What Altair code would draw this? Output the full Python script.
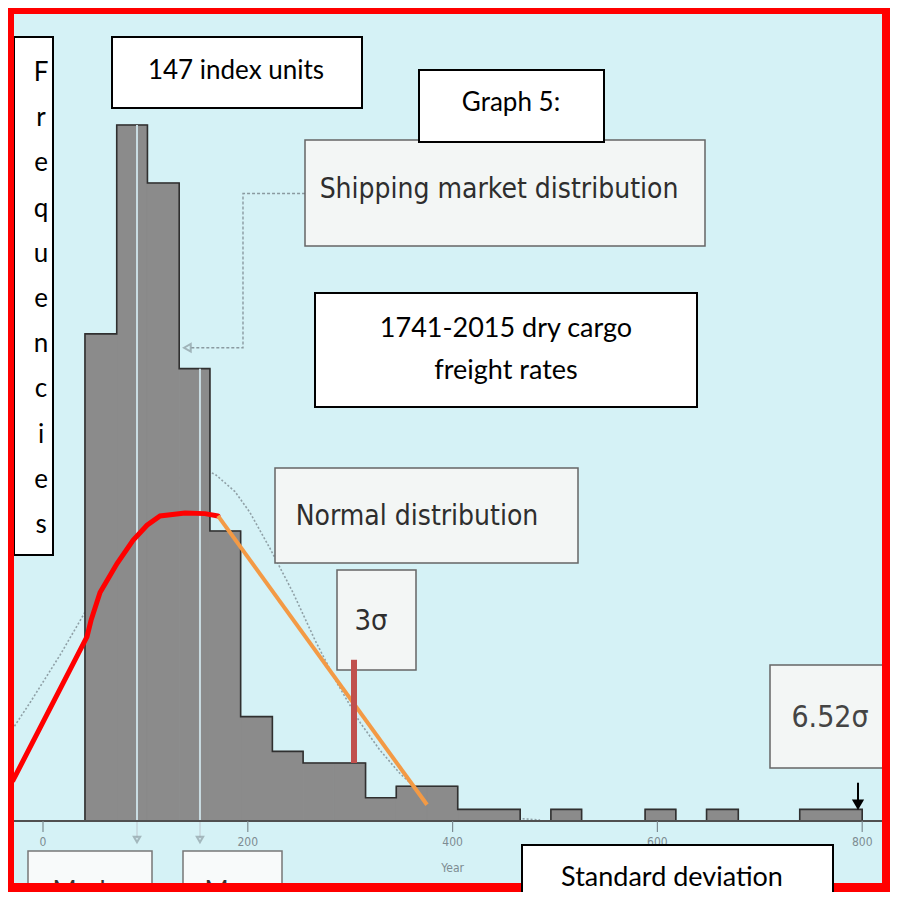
import altair as alt
import pandas as pd

# ---------------- data ----------------
# histogram bins (index units) and frequencies (number of years)
bin_lo = [41, 72, 102, 133, 163, 193, 224, 254, 284, 315, 345, 375, 405,
          436, 466, 496, 526, 557, 588, 618, 648, 679, 709, 739, 770]
bin_hi = [72, 102, 133, 163, 193, 224, 254, 284, 315, 345, 375, 405, 436,
          466, 496, 526, 557, 588, 618, 648, 679, 709, 739, 770, 800]
freq = [42, 60, 55, 39, 25, 9, 6, 5, 5, 2, 3, 3, 1,
        1, 0, 1, 0, 0, 1, 0, 1, 0, 0, 1, 1]

# dotted normal-distribution curve of the original graph
normal_x = [-32.2, -12.7, 16.6, 41.0, 65.4, 94.7, 124.0, 153.3, 168.0, 187.5, 202.1,
            221.7, 244.1, 265.6, 287.1, 309.6, 329.1, 348.6, 363.3, 382.8, 407.2, 446.3, 485.4]
normal_y = [7.6, 10.2, 14.3, 18.0, 22.1, 26.4, 29.2, 30.4, 29.9, 28.4, 26.6,
            23.5, 19.7, 15.6, 11.9, 8.5, 6.1, 4.1, 2.9, 1.8, 0.95, 0.34, 0.09]

# hand-drawn red curve and orange line
red_x = [-29.3, 43.0, 46.9, 55.7, 72.3, 87.9, 101.6, 114.3, 138.7, 158.2, 170.9]
red_y = [3.5, 15.9, 17.3, 19.7, 22.2, 24.2, 25.5, 26.3, 26.55, 26.5, 26.3]
orange_x = [170.9, 375.0]
orange_y = [26.3, 1.4]

# 3 sigma marker and 6.52 sigma arrow
sigma3_x, sigma3_lo, sigma3_hi = 303.7, 5.0, 13.9
sigma652_x, arrow_top, arrow_tip = 795.9, 3.3, 0.8

# mode / mean marker lines inside the histogram
marker_x = [91.8, 153.3]
marker_top = [60, 39]

# dotted connector from the "Shipping market distribution" box
conn_x = [255.9, 195.3, 195.3, 143.6]
conn_y = [54.1, 54.1, 40.8, 40.8]

tick_values = [0, 200, 400, 600, 800]
tick_labels = ["0", "200", "400", "600", "800"]

# ---------------- styling ----------------
W, H = 882, 884
BG = "#d5f2f6"
FONT = "Lato"
SCAN = "Liberation Sans Narrow, Arial Narrow, DejaVu Sans Condensed, Roboto, sans-serif"
XS = alt.Scale(domain=[-34.18, 827.15], nice=False, zero=False)
YS = alt.Scale(domain=[-6.12, 70.09], nice=False, zero=False)

one = pd.DataFrame({"a": [0]})


def X(f):
    return alt.X(f, type="quantitative", scale=XS, axis=None)


def Y(f):
    return alt.Y(f, type="quantitative", scale=YS, axis=None)


def box(x1, x2, y1, y2, fill="white", stroke="black", sw=2.0):
    return alt.Chart(one).mark_rect(fill=fill, stroke=stroke, strokeWidth=sw).encode(
        x=alt.value(x1), x2=alt.value(x2), y=alt.value(y1), y2=alt.value(y2))


def label(txt, x, y, size=27, font=FONT, color="black", baseline="middle", **kw):
    return alt.Chart(one).mark_text(align="center", baseline=baseline, fontSize=size,
                                    font=font, color=color, **kw).encode(
        x=alt.value(x), y=alt.value(y), text=alt.value(txt))


hist = pd.DataFrame({"lo": bin_lo, "hi": bin_hi, "freq": freq})
outline = pd.DataFrame({"x": [bin_lo[0]] + bin_lo + [bin_hi[-1]],
                        "y": [0] + freq + [0]})
outline["i"] = range(len(outline))
normal = pd.DataFrame({"x": normal_x, "y": normal_y})
red = pd.DataFrame({"x": red_x, "y": red_y, "i": range(len(red_x))})
orange = pd.DataFrame({"x": orange_x, "y": orange_y})
markers = pd.DataFrame({"x": marker_x, "top": marker_top})
conn = pd.DataFrame({"x": conn_x, "y": conn_y, "i": range(len(conn_x))})
ticks = pd.DataFrame({"v": tick_values, "t": tick_labels})

layers = []

# normal curve (behind bars)
layers.append(alt.Chart(normal).mark_line(color="#8fa0a6", strokeWidth=1.6,
                                          strokeDash=[2, 2]).encode(x=X("x"), y=Y("y")))
# histogram bars
layers.append(alt.Chart(hist).mark_rect(color="#8b8b8b", stroke="#8b8b8b",
                                        strokeWidth=1).encode(
    x=X("lo"), x2="hi", y=Y("freq"), y2=alt.datum(0)))
# histogram outline
layers.append(alt.Chart(outline).mark_line(color="#303030", strokeWidth=1.6,
                                           interpolate="step-after").encode(
    x=X("x"), y=Y("y"), order="i:Q"))
# light marker lines
layers.append(alt.Chart(markers).mark_rule(color="#c9dce2", strokeWidth=2).encode(
    x=X("x"), y=Y("top"), y2=alt.datum(-1.5)))
layers.append(alt.Chart(markers).mark_point(shape="triangle-down", color="#8fa0a6",
                                            size=40, filled=False).encode(
    x=X("x"), y=alt.Y(datum=-1.6, scale=YS, axis=None)))
# axis baseline, ticks, labels
layers.append(alt.Chart(one).mark_rule(color="#505050", strokeWidth=2).encode(
    x=alt.value(2), x2=alt.value(W - 2), y=alt.Y(datum=0, scale=YS, axis=None)))
layers.append(alt.Chart(ticks).mark_rule(color="#7d8c92", strokeWidth=1.2).encode(
    x=X("v"), y=alt.Y(datum=0, scale=YS, axis=None), y2=alt.datum(-0.95)))
layers.append(alt.Chart(ticks).mark_text(font=SCAN, fontSize=12, color="#7d8c92",
                                         baseline="middle").encode(
    x=X("v"), y=alt.Y(datum=-1.85, scale=YS, axis=None), text="t:N"))
layers.append(alt.Chart(one).mark_text(font=SCAN, fontSize=12, color="#7d8c92",
                                       baseline="middle").encode(
    x=alt.X(datum=400, scale=XS, axis=None), y=alt.Y(datum=-4.05, scale=YS, axis=None),
    text=alt.value("Year")))
# dotted connector with arrow head
layers.append(alt.Chart(conn).mark_line(color="#8a9aa0", strokeWidth=1.4,
                                        strokeDash=[3, 2]).encode(
    x=X("x"), y=Y("y"), order="i:Q"))
layers.append(alt.Chart(one).mark_point(shape="triangle-left", color="#8a9aa0",
                                        size=60, filled=False).encode(
    x=alt.X(datum=141, scale=XS, axis=None), y=alt.Y(datum=40.8, scale=YS, axis=None)))

# ---------------- annotation boxes ----------------
layers += [
    box(6, 45, 29, 547),
    label(list("Frequencies"), 33, 73, size=26, baseline="alphabetic", lineHeight=45.2),
    box(104, 354, 29, 100),
    label("147 index units", 228, 63, size=26),
    box(297, 697, 132, 238, fill="#f3f6f5", stroke="#666666", sw=1.5),
    label("Shipping market distribution", 491, 182, size=28, font=SCAN, color="#2e2e2e"),
    box(411, 596, 62, 134),
    label("Graph 5:", 503, 95, size=26),
    box(307, 689, 285, 399),
    label("1741-2015 dry cargo", 498, 321, size=27),
    label("freight rates", 498, 363, size=27),
    box(267, 570, 460, 555, fill="#f3f6f5", stroke="#666666", sw=1.5),
    label("Normal distribution", 409, 509, size=28, font=SCAN, color="#2e2e2e"),
    box(329, 408, 562, 662, fill="#f3f6f5", stroke="#666666", sw=1.5),
    label("3σ", 363, 613, size=29, font=SCAN, color="#2e2e2e"),
    box(762, 885, 657, 760, fill="#f3f6f5", stroke="#666666", sw=1.5),
    label("6.52σ", 822, 710, size=30, font=SCAN, color="#444444"),
    box(20, 144, 843, 900, fill="#f8fafa", stroke="#777777", sw=1.5),
    label("Mode", 78, 871, size=26, baseline="top", color="#333333"),
    box(175, 274, 843, 900, fill="#f8fafa", stroke="#777777", sw=1.5),
    label("Mean", 229, 871, size=26, baseline="top", color="#333333"),
]

# hand-drawn overlays
layers.append(alt.Chart(red).mark_line(color="#ff0000", strokeWidth=5,
                                       strokeCap="round").encode(
    x=X("x"), y=Y("y"), order="i:Q"))
layers.append(alt.Chart(orange).mark_line(color="#f39a45", strokeWidth=4).encode(
    x=X("x"), y=Y("y")))
layers.append(alt.Chart(one).mark_rule(color="#c0504d", strokeWidth=6).encode(
    x=alt.X(datum=sigma3_x, scale=XS, axis=None),
    y=alt.Y(datum=sigma3_lo, scale=YS, axis=None), y2=alt.datum(sigma3_hi)))
layers.append(alt.Chart(one).mark_rule(color="black", strokeWidth=2).encode(
    x=alt.X(datum=sigma652_x, scale=XS, axis=None),
    y=alt.Y(datum=arrow_top, scale=YS, axis=None), y2=alt.datum(arrow_tip + 0.8)))
layers.append(alt.Chart(one).mark_point(shape="triangle-down", color="black", size=150,
                                        filled=True, opacity=1).encode(
    x=alt.X(datum=sigma652_x, scale=XS, axis=None),
    y=alt.Y(datum=arrow_tip + 0.6, scale=YS, axis=None)))

# red frame
RED = "#ff0000"
layers += [
    box(0, W, 0, 6, fill=RED, stroke=RED, sw=0),
    box(0, 6, 0, H, fill=RED, stroke=RED, sw=0),
    box(W - 8, W, 0, H, fill=RED, stroke=RED, sw=0),
    box(0, W, H - 9, H, fill=RED, stroke=RED, sw=0),
    box(514, 825, 837, 900),
    label("Standard deviation", 664, 870, size=27),
]

chart = alt.layer(*layers).properties(
    width=W, height=H, padding=0,
    autosize=alt.AutoSizeParams(type="none"),
).configure(background=BG).configure_view(strokeWidth=0)

chart.save("out.html", embed_options={"renderer": "svg", "actions": False})
